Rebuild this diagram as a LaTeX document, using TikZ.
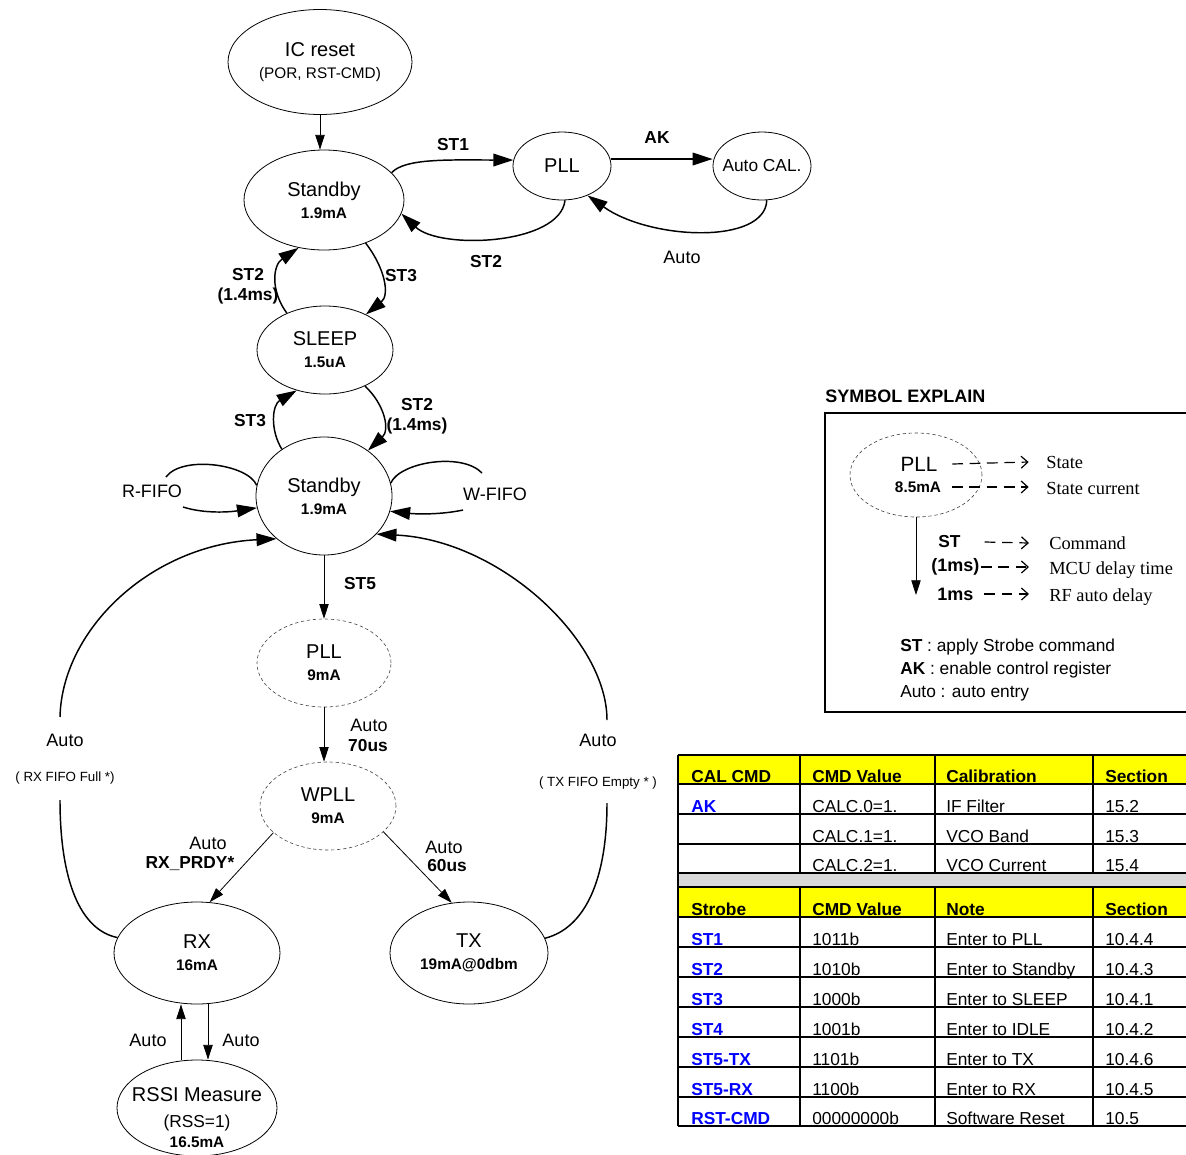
\documentclass[tikz,border=0pt]{standalone}
\usepackage{fontspec}
\setmainfont{Liberation Sans}
\newfontfamily\legserif{Liberation Serif}
\usepackage{tikz}
\usetikzlibrary{shapes,arrows,arrows.meta}
\definecolor{calyellow}{RGB}{255,255,0}
\definecolor{bandgray}{RGB}{217,217,217}
\definecolor{cmdblue}{RGB}{0,0,255}
\newcommand{\stcur}[1]{{\bfseries\fontsize{11.5}{13}\selectfont #1}}

\begin{document}
\begin{tikzpicture}[x=0.75pt,y=0.75pt,yscale=-1,xscale=1,
    state/.style={ellipse,draw,line width=0.6pt,inner sep=0pt,align=center,font=\fontsize{15}{16.5}\selectfont},
    dstate/.style={state,draw=black!75,dash pattern=on 2.5pt off 2pt,line width=0.45pt},
    curarr/.style={line width=1.1pt,-{Triangle[length=15pt,width=9.5pt]}},
    curln/.style={line width=1.1pt},
    strarr/.style={line width=0.6pt,-{Triangle[length=11pt,width=7pt]}},
    stlbl/.style={font=\bfseries\fontsize{13}{15}\selectfont,inner sep=0pt,align=center},
    autolbl/.style={font=\fontsize{13.5}{15}\selectfont,inner sep=0pt},
    notelbl/.style={font=\fontsize{10}{11}\selectfont,inner sep=0pt},
    legarr/.style={line width=0.9pt,dash pattern=on 8pt off 5pt,-{Straight Barb[length=5pt,width=9pt,line width=0.9pt]}},
    legtxt/.style={anchor=west,inner sep=0pt,font=\legserif\fontsize{13.8}{15}\selectfont},
    tabtxt/.style={anchor=base west,inner sep=0pt,font=\fontsize{13}{14}\selectfont},
    tabhead/.style={tabtxt,font=\bfseries\fontsize{13}{14}\selectfont},
    tabcmd/.style={tabtxt,font=\bfseries\fontsize{13}{14}\selectfont,text=cmdblue},
    tabline/.style={line width=1.5pt}]
    \useasboundingbox (0,0) rectangle (1186,1154);

    %Shape: Ellipse [state nodes]
    \node[state,minimum width=138pt,minimum height=78.75pt] (icreset) at (320,62) {IC reset\\{\fontsize{11.5}{13}\selectfont (POR, RST-CMD)}};
    \node[state,minimum width=120pt,minimum height=75pt] (stby) at (324,200) {Standby\\\stcur{1.9mA}};
    \node[state,minimum width=73.5pt,minimum height=51pt] (pll) at (562,166) {PLL};
    \node[state,minimum width=73.5pt,minimum height=51pt] (acal) at (762,166) {\makebox[0pt]{\fontsize{13}{14}\selectfont Auto CAL.}};
    \node[state,minimum width=102pt,minimum height=66pt] (sleep) at (325,350) {SLEEP\\\stcur{1.5uA}};
    \node[state,minimum width=102pt,minimum height=88.5pt] (stbyb) at (324,496) {Standby\\\stcur{1.9mA}};
    \node[dstate,minimum width=100.5pt,minimum height=66pt] (plld) at (324,663) {PLL\\\stcur{9mA}};
    \node[dstate,minimum width=102pt,minimum height=66pt] (wpll) at (328,806) {WPLL\\\stcur{9mA}};
    \node[state,minimum width=124.5pt,minimum height=76.5pt] (rx) at (197,953) {RX\\\stcur{16mA}};
    \node[state,minimum width=118.5pt,minimum height=76.5pt] (tx) at (469,953) {TX\\\stcur{19mA@0dbm}};
    \node[state,minimum width=120pt,minimum height=72pt] (rssi) at (197,1108) {};
    \node[anchor=north,inner sep=0pt,align=center,font=\fontsize{15}{16.5}\selectfont] (rssitxt) at (197,1087) {RSSI Measure\\[3.5pt]{\fontsize{13}{14}\selectfont (RSS=1)}\\[-1.5pt]\stcur{16.5mA}};

    %Straight Lines
    \draw[strarr] (icreset.south) -- (icreset.south |- stby.north);
    \draw[curarr] ([yshift=-5.25pt]pll.east) -- ([yshift=-5.25pt]acal.west);
    %Curve Lines
    \draw[curarr] (stby.22) .. controls (405,158) and (450,160) .. (pll.173);
    \draw[curarr] (pll.-85) .. controls (560,245) and (440,250) .. (stby.-10);
    \draw[curarr] (acal.-82) .. controls (765,245) and (650,240) .. (pll.-49);
    \draw[curarr] (stby.-46) .. controls (385,268) and (390,295) .. (sleep.41);
    \draw[curarr] (sleep.136) .. controls (270,290) and (273,265) .. (stby.242);
    \draw[curarr] (sleep.-42) .. controls (385,405) and (390,430) .. (stbyb.46);
    \draw[curarr] (stbyb.132) .. controls (270,430) and (272,405) .. (sleep.235);

    % FIFO loops
    \coordinate (rfa) at (166,477);
    \coordinate (rfb) at (183,507);
    \coordinate (wfa) at (482,473);
    \coordinate (wfb) at (463,510);
    \draw[curln] (stbyb.171) .. controls (248,464) and (182,455) .. (rfa);
    \draw[curarr] (rfb) .. controls (205,514) and (230,512) .. (stbyb.190);
    \draw[curln] (stbyb.11) .. controls (400,462) and (462,452) .. (wfa);
    \draw[curarr] (wfb) .. controls (440,515) and (415,514) .. (stbyb.-13);

    %Straight Lines
    \draw[strarr] (stbyb.south) -- (plld.north);
    \draw[strarr] (plld.south) -- (plld.south |- wpll.north);
    \draw[strarr] (wpll.206) -- (rx.76);
    \draw[strarr] (wpll.-25) -- (tx.109);
    \draw[strarr] ([xshift=8.25pt]rx.south) -- ([xshift=8.25pt]rssi.north);
    \draw[strarr] ([xshift=-12pt]rssi.north) -- ([xshift=-12pt]rx.south);

    % return arcs
    \coordinate (rxgapb) at (60,800);
    \coordinate (rxgapt) at (60,717);
    \coordinate (txgapb) at (607,803);
    \coordinate (txgapt) at (607,720);
    \draw[curln] (rx.169) .. controls (80,930) and (60,880) .. (rxgapb);
    \draw[curarr] (rxgapt) .. controls (62,630) and (150,545) .. (stbyb.222);
    \draw[curln] (tx.11) .. controls (585,928) and (607,880) .. (txgapb);
    \draw[curarr] (txgapt) .. controls (607,640) and (500,540) .. (stbyb.-36);

    % Text Node
    \node[stlbl] (lst1) at (453,145) {ST1};
    \node[stlbl] (lak) at (657,138) {AK};
    \node[stlbl] (lst2a) at (486,262) {ST2};
    \node[autolbl] (lauto1) at (682,257) {Auto};
    \node[stlbl] (lst2b) at (248,286) {ST2\\(1.4ms)};
    \node[stlbl] (lst3a) at (401,276) {ST3};
    \node[stlbl] (lst2c) at (417,416) {ST2\\(1.4ms)};
    \node[stlbl] (lst3b) at (250,421) {ST3};
    \node[autolbl] (lrfifo) at (152,491) {R-FIFO};
    \node[autolbl] (lwfifo) at (495,494) {W-FIFO};
    \node[stlbl] (lst5) at (360,584) {ST5};
    \node[autolbl] (lauto2) at (369,725) {Auto};
    \node[stlbl] (l70us) at (368,746) {70us};
    \node[autolbl] (lauto3) at (208,843) {Auto};
    \node[stlbl] (lprdy) at (190,864) {RX\_PRDY*};
    \node[autolbl] (lauto4) at (444,847) {Auto};
    \node[stlbl] (l60us) at (447,866) {60us};
    \node[autolbl] (lauto5) at (65,740) {Auto};
    \node[notelbl] (lrxfull) at (65,778) {( RX FIFO Full *)};
    \node[autolbl] (lauto6) at (598,740) {Auto};
    \node[notelbl] (ltxempty) at (598,783) {( TX FIFO Empty * )};
    \node[autolbl] (lauto7) at (148,1040) {Auto};
    \node[autolbl] (lauto8) at (241,1040) {Auto};

    % legend
    \node[anchor=west,inner sep=0pt,font=\bfseries\fontsize{13.5}{15}\selectfont] (legtitle) at (825,396) {SYMBOL EXPLAIN};
    \draw[line width=1.5pt] (1186,413) -- (825,413) -- (825,712) -- (1186,712);
    \node[dstate,minimum width=99pt,minimum height=63pt] (legell) at (916,475) {};
    \node[inner sep=0pt,font=\fontsize{15.5}{16}\selectfont] (legpll) at (919,464) {PLL};
    \node[inner sep=0pt,font=\bfseries\fontsize{11.5}{12}\selectfont] (legma) at (918,487) {8.5mA};
    \node[legtxt] (lstate) at (1046,462) {State};
    \node[legtxt] (lstcur) at (1046,488) {State current};
    \node[anchor=west,inner sep=0pt,font=\bfseries\fontsize{13}{14}\selectfont] (legst) at (938,542) {ST};
    \node[anchor=west,inner sep=0pt,font=\bfseries\fontsize{13.5}{14}\selectfont] (legmcu) at (931,567) {(1ms)};
    \node[anchor=west,inner sep=0pt,font=\bfseries\fontsize{13.5}{14}\selectfont] (legrf) at (937,594) {1ms};
    \node[legtxt] (lcmd) at (1049,543) {Command};
    \node[legtxt] (ldelay) at (1049,570) {MCU delay time};
    \node[legtxt] (lauto) at (1049,597) {RF auto delay};
    \coordinate (legdn) at (916,595);
    \draw[strarr] (legell.south) -- (legdn);
    \draw[legarr] ([xshift=11pt]legpll.east) -- ([xshift=-13pt]lstate.west);
    \draw[legarr] ([xshift=8pt]legma.east) -- ([xshift=-13pt]lstcur.west |- legma.east);
    \draw[legarr] ([xshift=18pt]legst.east) -- ([xshift=-15pt]lcmd.west);
    \draw[legarr] ([xshift=1pt]legmcu.east) -- ([xshift=-15pt]ldelay.west |- legmcu.east);
    \draw[legarr] ([xshift=8pt]legrf.east) -- ([xshift=-15pt]lauto.west |- legrf.east);
    \node[anchor=west,inner sep=0pt,font=\fontsize{13}{14}\selectfont] (legk1) at (900,647) {\textbf{ST} : apply Strobe command};
    \node[anchor=west,inner sep=0pt,font=\fontsize{13}{14}\selectfont] (legk2) at (900,670) {\textbf{AK} : enable control register};
    \node[anchor=west,inner sep=0pt,font=\fontsize{13}{14}\selectfont] (legk3) at (900,693) {Auto : auto entry};

    % table
    \fill[calyellow] (678,755) rectangle (1186,784);
    \fill[bandgray] (678,873) rectangle (1186,887);
    \fill[calyellow] (678,887) rectangle (1186,917);
    \node[tabhead] (ch1) at (691,782) {CAL CMD};
    \node[tabhead] (ch2) at (812,782) {CMD Value};
    \node[tabhead] (ch3) at (946,782) {Calibration};
    \node[tabhead] (ch4) at (1105,782) {Section};
    \node[tabcmd] (ak1) at (691,812) {AK};
    \node[tabtxt] (ak2) at (812,812) {CALC.0=1.};
    \node[tabtxt] (ak3) at (946,812) {IF Filter};
    \node[tabtxt] (ak4) at (1105,812) {15.2};
    \node[tabtxt] (cb2) at (812,842) {CALC.1=1.};
    \node[tabtxt] (cb3) at (946,842) {VCO Band};
    \node[tabtxt] (cb4) at (1105,842) {15.3};
    \node[tabtxt] (cc2) at (812,871) {CALC.2=1.};
    \node[tabtxt] (cc3) at (946,871) {VCO Current};
    \node[tabtxt] (cc4) at (1105,871) {15.4};
    \node[tabhead] (sh1) at (691,915) {Strobe};
    \node[tabhead] (sh2) at (812,915) {CMD Value};
    \node[tabhead] (sh3) at (946,915) {Note};
    \node[tabhead] (sh4) at (1105,915) {Section};
    \node[tabcmd] (s11) at (691,945) {ST1};
    \node[tabtxt] (s12) at (812,945) {1011b};
    \node[tabtxt] (s13) at (946,945) {Enter to PLL};
    \node[tabtxt] (s14) at (1105,945) {10.4.4};
    \node[tabcmd] (s21) at (691,975) {ST2};
    \node[tabtxt] (s22) at (812,975) {1010b};
    \node[tabtxt] (s23) at (946,975) {Enter to Standby};
    \node[tabtxt] (s24) at (1105,975) {10.4.3};
    \node[tabcmd] (s31) at (691,1005) {ST3};
    \node[tabtxt] (s32) at (812,1005) {1000b};
    \node[tabtxt] (s33) at (946,1005) {Enter to SLEEP};
    \node[tabtxt] (s34) at (1105,1005) {10.4.1};
    \node[tabcmd] (s41) at (691,1035) {ST4};
    \node[tabtxt] (s42) at (812,1035) {1001b};
    \node[tabtxt] (s43) at (946,1035) {Enter to IDLE};
    \node[tabtxt] (s44) at (1105,1035) {10.4.2};
    \node[tabcmd] (s51) at (691,1065) {ST5-TX};
    \node[tabtxt] (s52) at (812,1065) {1101b};
    \node[tabtxt] (s53) at (946,1065) {Enter to TX};
    \node[tabtxt] (s54) at (1105,1065) {10.4.6};
    \node[tabcmd] (s61) at (691,1095) {ST5-RX};
    \node[tabtxt] (s62) at (812,1095) {1100b};
    \node[tabtxt] (s63) at (946,1095) {Enter to RX};
    \node[tabtxt] (s64) at (1105,1095) {10.4.5};
    \node[tabcmd] (s71) at (691,1124) {RST-CMD};
    \node[tabtxt] (s72) at (812,1124) {00000000b};
    \node[tabtxt] (s73) at (946,1124) {Software Reset};
    \node[tabtxt] (s74) at (1105,1124) {10.5};
    \foreach \ry in {755,784,814,844,873,887,917,947,977,1007,1037,1067,1097,1126}
        \draw[tabline] (678,\ry) -- (1186,\ry);
    \draw[tabline] (678,755) -- (678,1126);
    \foreach \cx in {800,935,1093} {
        \draw[tabline] (\cx,755) -- (\cx,873);
        \draw[tabline] (\cx,887) -- (\cx,1126);
    }
\end{tikzpicture}
\end{document}
